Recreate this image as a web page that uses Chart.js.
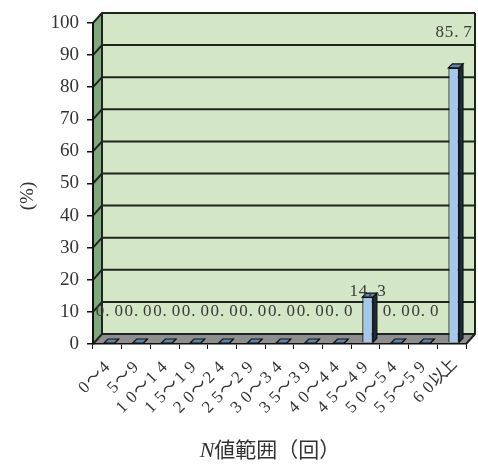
<!DOCTYPE html>
<html>
<head>
<meta charset="utf-8">
<script src="https://cdn.jsdelivr.net/npm/chart.js@4.4.1/dist/chart.umd.min.js"></script>
<style>
  html, body { margin: 0; padding: 0; background: #ffffff; }
  canvas { display: block; }
</style>
</head>
<body>
<canvas id="c" width="478" height="466"></canvas>
<script>
// N値の範囲ごとの割合 (%)
const categories = ['0～4', '5～9', '10～14', '15～19', '20～24', '25～29', '30～34',
                    '35～39', '40～44', '45～49', '50～54', '55～59', '60以上'];
const percentages = [0, 0, 0, 0, 0, 0, 0, 0, 0, 14.3, 0, 0, 85.7];
const yTickValues = [0, 10, 20, 30, 40, 50, 60, 70, 80, 90, 100];
const yTitle = '(%)';
const xTitleItalic = 'N';
const xTitleRest = '値範囲（回）';

const SERIF = "'Liberation Serif', 'Noto Sans CJK JP', serif";
const DX = 9, DY = -10;        // depth offset of the back wall
const BAR_SHIFT_X = 2, BAR_SHIFT_Y = -1;
const BAR_DEPTH = 4;

// draws text with a fixed advance per character (monospaced look);
// periods sit at the left of their cell
function drawSpaced(ctx, text, startX, y, adv) {
  for (let k = 0; k < text.length; k++) {
    const ch = text[k];
    if (ch === '.') {
      ctx.textAlign = 'left';
      ctx.fillText(ch, startX + adv * k + 0.5, y);
    } else {
      ctx.textAlign = 'center';
      ctx.fillText(ch, startX + adv * k + adv / 2, y);
    }
  }
}

// back wall, side wall, floor and the wall grid lines
const walls3d = {
  id: 'walls3d',
  beforeDraw(chart) {
    const { ctx, chartArea: a } = chart;
    const ys = chart.scales.y;
    ctx.save();
    ctx.fillStyle = '#d3e6c6';
    ctx.fillRect(a.left + DX, a.top + DY, a.right - a.left, a.bottom - a.top);
    ctx.fillStyle = '#7fa97c';
    ctx.beginPath();
    ctx.moveTo(a.left, a.top);
    ctx.lineTo(a.left + DX, a.top + DY);
    ctx.lineTo(a.left + DX, a.bottom + DY);
    ctx.lineTo(a.left, a.bottom);
    ctx.closePath();
    ctx.fill();
    ctx.fillStyle = '#8e8e8e';
    ctx.beginPath();
    ctx.moveTo(a.left, a.bottom);
    ctx.lineTo(a.left + DX, a.bottom + DY);
    ctx.lineTo(a.right + DX, a.bottom + DY);
    ctx.lineTo(a.right, a.bottom);
    ctx.closePath();
    ctx.fill();
    ctx.strokeStyle = '#1e251e';
    ctx.lineWidth = 2;
    ys.ticks.forEach(t => {
      const yy = ys.getPixelForValue(t.value);
      ctx.beginPath();
      ctx.moveTo(a.left, yy);
      ctx.lineTo(a.left + DX, yy + DY);
      ctx.lineTo(a.right + DX, yy + DY);
      ctx.stroke();
    });
    ctx.beginPath();
    ctx.moveTo(a.left + DX, a.top + DY);
    ctx.lineTo(a.left + DX, a.bottom + DY);
    ctx.moveTo(a.right + DX, a.top + DY);
    ctx.lineTo(a.right + DX, a.bottom + DY);
    ctx.lineTo(a.right, a.bottom);
    ctx.stroke();
    ctx.restore();
  }
};

// column tops and sides, value labels, category labels and titles
const columns3d = {
  id: 'columns3d',
  beforeDatasetsDraw(chart) {
    chart.ctx.save();
    chart.ctx.translate(BAR_SHIFT_X, BAR_SHIFT_Y);
  },
  afterDatasetsDraw(chart) {
    const { ctx } = chart;
    const meta = chart.getDatasetMeta(0);
    const D = BAR_DEPTH;
    ctx.lineWidth = 1.2;
    ctx.strokeStyle = '#111111';
    meta.data.forEach(bar => {
      const { x, y, base, width } = bar.getProps(['x', 'y', 'base', 'width'], true);
      const l = x - width / 2, r = x + width / 2;
      ctx.fillStyle = '#1d2a3a';
      ctx.beginPath();
      ctx.moveTo(r, y);
      ctx.lineTo(r + D, y - D);
      ctx.lineTo(r + D, base - D);
      ctx.lineTo(r, base);
      ctx.closePath();
      ctx.fill();
      ctx.stroke();
      ctx.fillStyle = '#5f84a8';
      ctx.beginPath();
      ctx.moveTo(l, y);
      ctx.lineTo(l + D, y - D);
      ctx.lineTo(r + D, y - D);
      ctx.lineTo(r, y);
      ctx.closePath();
      ctx.fill();
      ctx.stroke();
    });
    ctx.restore();

    // value labels
    const ys = chart.scales.y;
    const values = chart.data.datasets[0].data;
    ctx.save();
    ctx.font = '17px ' + SERIF;
    ctx.fillStyle = '#3a3a3a';
    ctx.textBaseline = 'middle';
    const adv = 9.3;
    meta.data.forEach((bar, i) => {
      const v = values[i];
      const text = v.toFixed(1);
      let ly;
      if (v === 0) ly = ys.getPixelForValue(10);
      else if (v > 50) ly = ys.getPixelForValue(97);
      else ly = ys.getPixelForValue(v) - 7;
      const cx = bar.x + BAR_SHIFT_X;
      drawSpaced(ctx, text, cx - (text.length * adv) / 2, ly, adv);
    });
    ctx.restore();
  },
  afterDraw(chart) {
    const { ctx } = chart;
    const xs = chart.scales.x;
    const a = chart.chartArea;

    // category labels, rotated 45°
    ctx.save();
    ctx.fillStyle = '#333333';
    ctx.font = '17px ' + SERIF;
    ctx.textBaseline = 'middle';
    const adv = 14;
    chart.data.labels.forEach((lab, i) => {
      const px = xs.getPixelForTick(i) + 2;
      const py = a.bottom + 19;
      ctx.save();
      ctx.translate(px, py);
      ctx.rotate(-Math.PI / 4);
      drawSpaced(ctx, lab, -adv * lab.length, 0, adv);
      ctx.restore();
    });
    ctx.restore();

    // y title
    ctx.save();
    ctx.fillStyle = '#333333';
    ctx.font = '19px ' + SERIF;
    ctx.textAlign = 'center';
    ctx.textBaseline = 'middle';
    ctx.translate(28, 196);
    ctx.rotate(-Math.PI / 2);
    ctx.fillText(yTitle, 0, 0);
    ctx.restore();

    // x title: italic N followed by the rest
    ctx.save();
    ctx.fillStyle = '#333333';
    ctx.textBaseline = 'middle';
    const fi = 'italic 22px ' + SERIF, fr = '21px ' + SERIF;
    ctx.font = fi;
    const w1 = ctx.measureText(xTitleItalic).width;
    ctx.font = fr;
    const w2 = ctx.measureText(xTitleRest).width;
    const cx = 270, cy = 451;
    const x0 = cx - (w1 + w2) / 2;
    ctx.font = fi;
    ctx.fillText(xTitleItalic, x0, cy);
    ctx.font = fr;
    ctx.fillText(xTitleRest, x0 + w1, cy);
    ctx.restore();
  }
};

new Chart(document.getElementById('c'), {
  type: 'bar',
  data: {
    labels: categories,
    datasets: [{
      data: percentages,
      backgroundColor: '#a5c7ea',
      borderColor: '#111111',
      borderWidth: 1.2,
      barPercentage: 0.37,
      categoryPercentage: 1
    }]
  },
  options: {
    responsive: false,
    animation: false,
    devicePixelRatio: 1,
    layout: { padding: { left: 0, right: 12, top: 23, bottom: 0 } },
    plugins: { legend: { display: false }, tooltip: { enabled: false }, title: { display: false } },
    scales: {
      x: {
        afterFit(s) { s.height = 122; },
        grid: { offset: true, drawOnChartArea: false, tickLength: 5, color: '#111111', lineWidth: 1 },
        border: { display: true, color: '#111111', width: 1.5 },
        ticks: { display: false, autoSkip: false }
      },
      y: {
        min: 0, max: 100,
        afterFit(s) { s.width = 93; },
        afterBuildTicks(s) { s.ticks = yTickValues.map(v => ({ value: v })); },
        grid: { drawOnChartArea: false, tickLength: 6, color: '#111111', lineWidth: 1.5 },
        border: { display: true, color: '#111111', width: 2 },
        ticks: { padding: 8, color: '#333333', font: { family: SERIF, size: 19 } }
      }
    }
  },
  plugins: [walls3d, columns3d]
});
</script>
</body>
</html>
